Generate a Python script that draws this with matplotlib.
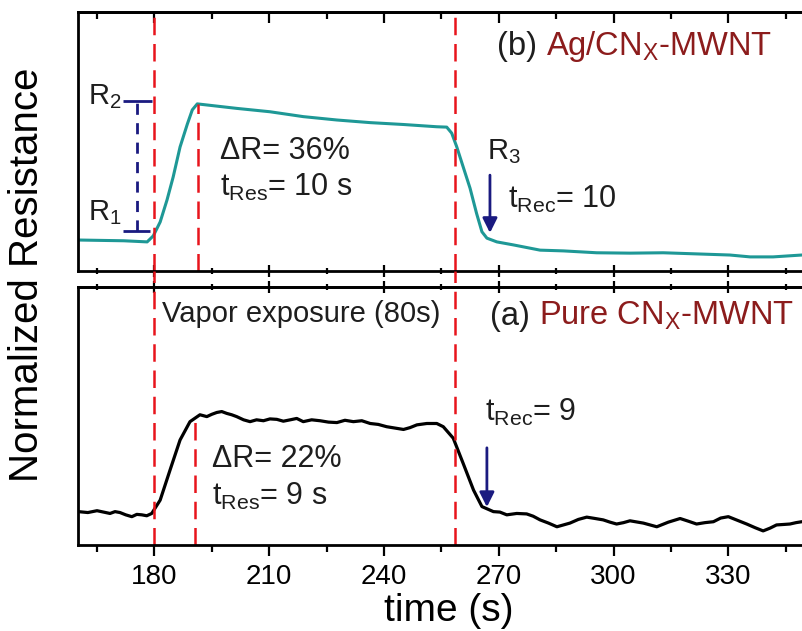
import matplotlib
matplotlib.use("Agg")
import matplotlib.pyplot as plt
from matplotlib.ticker import MultipleLocator

plt.rcParams["font.family"] = ["Liberation Sans", "DejaVu Sans"]
plt.rcParams["mathtext.fontset"] = "custom"
plt.rcParams["mathtext.rm"] = "Liberation Sans"
plt.rcParams["mathtext.it"] = "Liberation Sans:italic"
plt.rcParams["mathtext.default"] = "regular"

# (b) Ag/CNx-MWNT response (time in s, normalized resistance)
t_ag = [160.1, 166.0, 172.0, 178.1, 179.7, 181.5, 183.3, 184.9, 186.7, 188.6, 189.9,
        191.2, 201.5, 210.2, 218.9, 227.7, 236.4, 245.1, 253.8, 256.4, 257.7, 259.0,
        260.7, 262.5, 264.2, 265.6, 266.9, 269.5, 273.8, 280.8, 286.9, 295.6, 304.3,
        313.0, 321.7, 330.4, 335.7, 341.7, 349.2, 354.0]
r_ag = [1.000, 0.999, 0.998, 0.995, 1.011, 1.048, 1.107, 1.168, 1.248, 1.309, 1.347,
        1.363, 1.351, 1.342, 1.329, 1.320, 1.313, 1.308, 1.302, 1.301, 1.285, 1.249,
        1.195, 1.138, 1.071, 1.022, 1.005, 0.995, 0.987, 0.973, 0.971, 0.966, 0.965,
        0.966, 0.963, 0.960, 0.955, 0.955, 0.960, 0.960]

# (a) pure CNx-MWNT response
t_pure = [160.1, 162.6, 165.0, 166.7, 168.4, 169.7, 171.0, 172.5, 174.1, 175.4, 176.7,
          178.0, 179.3, 181.5, 184.1, 186.7, 189.3, 191.9, 193.7, 195.0, 196.3, 197.6,
          198.9, 200.2, 201.5, 203.3, 205.0, 206.7, 208.5, 210.2, 212.0, 213.7, 215.5,
          217.2, 218.9, 221.1, 223.3, 225.5, 227.7, 229.8, 232.0, 234.2, 236.4, 238.5,
          240.7, 242.9, 245.1, 246.8, 248.6, 251.2, 253.8, 255.5, 258.1, 260.7, 263.4,
          265.6, 268.6, 270.3, 272.1, 274.7, 277.3, 279.0, 280.8, 283.0, 285.2, 286.9,
          288.6, 290.8, 293.0, 295.2, 297.3, 299.1, 300.8, 302.6, 304.3, 307.8, 311.3,
          314.3, 317.4, 319.6, 321.7, 323.9, 326.1, 328.0, 330.0, 332.4, 334.8, 337.0,
          339.1, 340.9, 342.6, 344.4, 346.1, 347.7, 349.2, 354.0]
r_pure = [1.003, 1.001, 1.005, 1.002, 0.999, 1.003, 1.001, 0.996, 0.992, 0.997, 0.996,
          0.994, 0.999, 1.028, 1.094, 1.159, 1.199, 1.214, 1.210, 1.215, 1.219, 1.221,
          1.217, 1.214, 1.210, 1.203, 1.199, 1.203, 1.201, 1.205, 1.204, 1.200, 1.203,
          1.206, 1.199, 1.203, 1.201, 1.198, 1.197, 1.202, 1.199, 1.201, 1.195, 1.193,
          1.188, 1.185, 1.182, 1.186, 1.192, 1.195, 1.195, 1.188, 1.163, 1.108, 1.050,
          1.014, 1.003, 1.002, 0.996, 0.999, 0.998, 0.993, 0.985, 0.978, 0.970, 0.974,
          0.978, 0.986, 0.991, 0.988, 0.985, 0.980, 0.976, 0.979, 0.983, 0.978, 0.970,
          0.980, 0.988, 0.982, 0.976, 0.979, 0.981, 0.989, 0.992, 0.984, 0.976, 0.968,
          0.961, 0.967, 0.974, 0.975, 0.976, 0.979, 0.981, 0.980]

exposure_on = 180.0
exposure_off = 258.5
res_end = {"ag": 191.3, "pure": 190.6}
rec_arrow = {"ag": (267.7, 1.173, 1.019), "pure": (266.9, 1.142, 1.013)}
R1, R2 = 1.024, 1.371

TEAL = "#1e9896"
RED = "#e8141c"
NAVY = "#1a1a80"
DARKRED = "#8c1c1c"
INK = "#1e1e1e"
XLIM = (160.1, 353.7)
ANN = 22

fig = plt.figure(figsize=(8.02, 6.31), dpi=100)
ax_b = fig.add_axes([0.0976, 0.5713, 0.9236, 0.4097])
ax_a = fig.add_axes([0.0976, 0.1363, 0.9236, 0.4089])


def style_axis(ax, bottom_dir, top_dir, labels):
    ax.set_xlim(*XLIM)
    ax.set_yticks([])
    for sp in ax.spines.values():
        sp.set_linewidth(2.0)
    ax.xaxis.set_major_locator(MultipleLocator(30))
    ax.xaxis.set_minor_locator(MultipleLocator(15))
    ax.tick_params(axis="x", which="major", direction=bottom_dir, length=8, width=1.6,
                   labelsize=20, pad=6, labelbottom=labels, top=False)
    ax.tick_params(axis="x", which="minor", direction=bottom_dir, length=5, width=1.6, top=False)
    sec = ax.secondary_xaxis("top")
    sec.xaxis.set_major_locator(MultipleLocator(30))
    sec.xaxis.set_minor_locator(MultipleLocator(15))
    sec.tick_params(axis="x", which="major", direction=top_dir, length=8, width=1.6, labeltop=False)
    sec.tick_params(axis="x", which="minor", direction=top_dir, length=5, width=1.6)
    sec.spines["top"].set_linewidth(2.0)


def note(ax, x, y, s, size=ANN, color=INK):
    return ax.text(x, y, s, fontsize=size, va="center", ha="left", color=color)


# top panel: Ag/CNx-MWNT
ax_b.plot(t_ag, r_ag, color=TEAL, lw=2.2)
ax_b.set_ylim(0.9187, 1.608)
style_axis(ax_b, "inout", "in", False)
dash = (0, (7, 3.5))
lo, hi = ax_b.get_ylim()
ax_b.vlines([exposure_on, exposure_off], lo, hi, colors=RED, lw=1.8, linestyles=[dash])
ax_b.vlines(res_end["ag"], lo, max(r_ag), colors=RED, lw=1.8, linestyles=[dash])
ax_b.hlines([R2, R1], [171.8, 171.8], [179.4, 178.8], colors=NAVY, lw=2.0)
ax_b.vlines(175.5, R1, R2, colors=NAVY, lw=2.0, linestyles=[(0, (4, 3))])
note(ax_b, 162.7, 1.383, "R$_2$", 21)
note(ax_b, 162.7, 1.073, "R$_1$", 21)
note(ax_b, 266.9, 1.235, "R$_3$", 21)
note(ax_b, 197.2, 1.237, "\u0394R= 36%")
note(ax_b, 197.2, 1.139, "t$_{Res}$= 10 s")
note(ax_b, 272.4, 1.109, "t$_{Rec}$= 10")
x, y0, y1 = rec_arrow["ag"]
ax_b.annotate("", xy=(x, y1), xytext=(x, y0),
              arrowprops=dict(arrowstyle="-|>", color=NAVY, lw=2.0, mutation_scale=22,
                              shrinkA=0, shrinkB=0))
lab = note(ax_b, 269.5, 1.515, "(b) ", 23.5)
ax_b.annotate("Ag/CN$_{X}$-MWNT", xy=(1, 1.515), xycoords=(lab, "data"), fontsize=23.5,
              va="center", ha="left", color=DARKRED)

# bottom panel: pure CNx-MWNT
ax_a.plot(t_pure, r_pure, color="black", lw=2.3)
ax_a.set_ylim(0.9303, 1.4924)
style_axis(ax_a, "out", "inout", True)
lo, hi = ax_a.get_ylim()
gap = 0.035
ax_a.vlines([exposure_on, exposure_off], lo, hi + gap, colors=RED, lw=1.8,
            linestyles=[dash], clip_on=False)
ax_a.vlines(res_end["pure"], lo, 1.209, colors=RED, lw=1.8, linestyles=[dash])
note(ax_a, 182.0, 1.434, "Vapor exposure (80s)", 21)
note(ax_a, 195.1, 1.118, "\u0394R= 22%")
note(ax_a, 195.1, 1.035, "t$_{Res}$= 9 s")
note(ax_a, 266.4, 1.220, "t$_{Rec}$= 9")
x, y0, y1 = rec_arrow["pure"]
ax_a.annotate("", xy=(x, y1), xytext=(x, y0),
              arrowprops=dict(arrowstyle="-|>", color=NAVY, lw=2.0, mutation_scale=22,
                              shrinkA=0, shrinkB=0))
lab = note(ax_a, 267.7, 1.429, "(a) ", 23.5)
ax_a.annotate("Pure CN$_{X}$-MWNT", xy=(1, 1.429), xycoords=(lab, "data"), fontsize=23.5,
              va="center", ha="left", color=DARKRED)

fig.text(448.5 / 802, 1 - 611 / 631, "time (s)", fontsize=28, ha="center", va="center")
fig.text(0.034, 1 - 275 / 631, "Normalized Resistance", fontsize=29, rotation=90,
         ha="center", va="center")

fig.savefig("out.png", dpi=100)
